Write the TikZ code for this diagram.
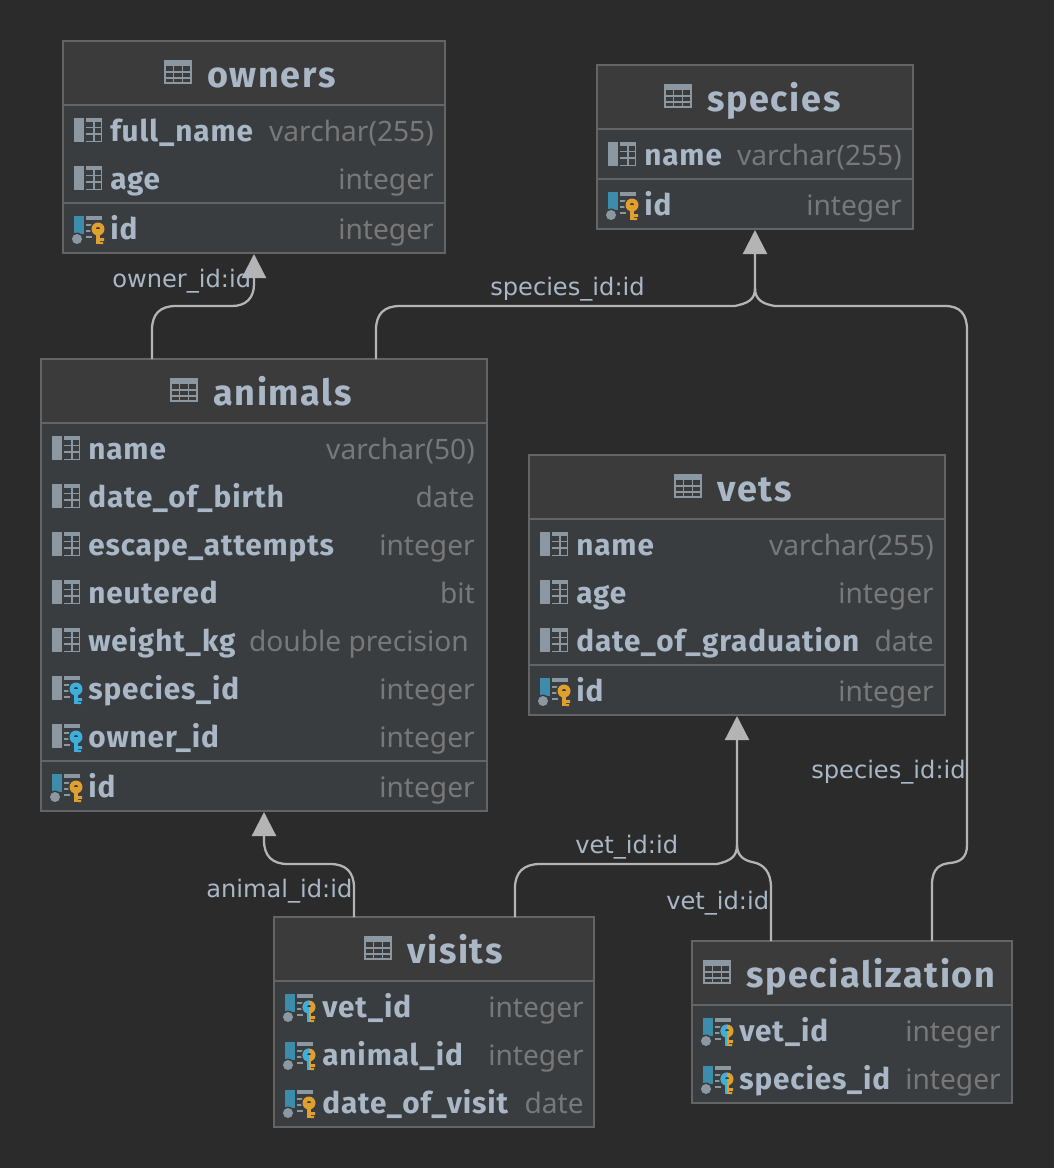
\documentclass[tikz,border=0pt]{standalone}
\usepackage{fontspec}
\setmainfont{Noto Sans}
\newfontfamily\boldfont{Fira Sans}[LetterSpace=3]
\newfontfamily\titlefont{Fira Sans}[LetterSpace=4.5]
\newfontfamily\labelfont{DejaVu Sans}
\usetikzlibrary{arrows.meta,calc}
\definecolor{bgc}{HTML}{2B2B2B}
\definecolor{bodyc}{HTML}{3A3D40}
\definecolor{headc}{HTML}{3C3B3B}
\definecolor{edgec}{HTML}{646464}
\definecolor{txtc}{HTML}{A9B7C6}
\definecolor{typec}{HTML}{787878}
\definecolor{linec}{HTML}{B4B4B4}
\definecolor{iconc}{HTML}{8C98A1}
\definecolor{pkblue}{HTML}{3D8CAB}
\definecolor{keyo}{HTML}{E0A030}
\definecolor{keyb}{HTML}{3CAFDC}
\tikzset{
 x=0.75pt,y=-0.75pt,
 tbl/.style={draw=edgec,line width=1.5pt,fill=bodyc,rectangle,anchor=north west,inner sep=0pt,outer sep=0pt},
 titletext/.style={anchor=base west,yshift=-9pt,text=txtc,font=\titlefont\fontsize{27}{28}\selectfont\bfseries,inner sep=0pt},
 coltext/.style={anchor=base west,yshift=-7.9pt,text=txtc,font=\boldfont\fontsize{22.3}{24}\selectfont\bfseries,inner sep=0pt},
 typetext/.style={anchor=base east,yshift=-7.9pt,text=typec,font=\fontsize{21.1}{24}\selectfont,inner sep=0pt},
 lbl/.style={anchor=base west,yshift=-6.4pt,text=txtc,font=\labelfont\fontsize{18.1}{20}\selectfont,inner sep=0pt},
 conn/.style={draw=linec,line width=1.7pt},
 arrowed/.style={conn,-{Triangle[width=18pt,length=18pt,fill=linec]}},
 sepl/.style={draw=edgec,line width=1.5pt},
}
\newcommand{\headbg}[4]{\fill[headc] (#1,#2) rectangle (#3,#4);}
\newcommand{\tabicon}[2]{\begin{scope}[shift={(#1,#2-3)}]
 \fill[iconc] (0,0) rectangle (28,6);
 \draw[iconc,line width=1.2pt] (0.8,0.8) rectangle (27.2,23.2);
 \draw[iconc,line width=.9pt] (0,12) -- (28,12) (0,18) -- (28,18) (9.5,0) -- (9.5,24) (18.5,0) -- (18.5,24);
\end{scope}}
\newcommand{\colicon}[2]{\begin{scope}[shift={(#1,#2-2)}]
 \fill[iconc] (0,0) rectangle (9.5,24);
 \fill[iconc] (12,0) rectangle (28,4);
 \draw[iconc,line width=.9pt] (12,9.5) -- (28,9.5) (12,16) -- (28,16) (12,23.2) -- (28,23.2) (20,0) -- (20,24) (27.3,0) -- (27.3,24);
\end{scope}}
\newcommand{\keyicon}[1]{%
 \fill[#1] (21.8,13) rectangle (26.2,28);
 \fill[#1] (26,22) rectangle (30,25) (26,26) rectangle (29,28);
 \fill[#1,even odd rule] (24,13) circle (6.5) (24,13) circle (2.2);
}
\newcommand{\keyclear}{\fill[bodyc] (24,13) circle (8);}
\newcommand{\fkicon}[2]{\begin{scope}[shift={(#1,#2-2)}]
 \fill[iconc] (0,0) rectangle (9.5,24);
 \fill[iconc] (12,0) rectangle (28,3.5);
 \draw[iconc,line width=.9pt] (12,9) -- (18,9) (12,15) -- (17,15) (12,21) -- (18,21);
 \keyclear
 \keyicon{keyb}
\end{scope}}
\newcommand{\pkbase}{%
 \fill[pkblue] (0,0) rectangle (9.5,18);
 \fill[bodyc] (3,23) circle (6.5);
 \fill[iconc] (3,23) circle (5);
 \fill[iconc] (12,0) rectangle (28,3.5);
 \draw[iconc,line width=.9pt] (12,9) -- (18,9) (12,15) -- (17,15) (12,21) -- (18,21);
 \keyclear
}
\newcommand{\pkicon}[2]{\begin{scope}[shift={(#1,#2-2)}]
 \pkbase
 \keyicon{keyo}
\end{scope}}
% primary key that is also a foreign key: key half blue, half orange
\newcommand{\pkfkicon}[2]{\begin{scope}[shift={(#1,#2-2)}]
 \pkbase
 \keyicon{keyo}
 \begin{scope}
  \clip (15,0) rectangle (24,30);
  \keyicon{keyb}
 \end{scope}
\end{scope}}
\begin{document}
\begin{tikzpicture}
\useasboundingbox (0,0) rectangle (1054,1168);
\fill[bgc] (0,0) rectangle (1054,1168);

% ---- tables
\node[tbl,minimum width=286.5pt,minimum height=159pt] (owners) at (63,41) {};
\headbg{63}{41}{445}{105}
\draw[sepl] (63,105) -- (445,105) (63,203) -- (445,203);
\draw[edgec,line width=1.5pt] (63,41) rectangle (445,253);
\tabicon{164}{63}
\node[titletext] (ownersT) at (207,75) {owners};
\colicon{74}{120}\node[coltext] (o1) at (110,131) {full\_name};
\node[typetext] (o1t) at (434,131) {varchar(255)};
\colicon{74}{168}\node[coltext] (o2) at (110,179) {age};
\node[typetext] (o2t) at (434,179) {integer};
\pkicon{74}{218}\node[coltext] (o3) at (110,229) {id};
\node[typetext] (o3t) at (434,229) {integer};

\node[tbl,minimum width=237pt,minimum height=123pt] (species) at (597,65) {};
\headbg{597}{65}{913}{129}
\draw[sepl] (597,129) -- (913,129) (597,179) -- (913,179);
\draw[edgec,line width=1.5pt] (597,65) rectangle (913,229);
\tabicon{664}{87}
\node[titletext] (speciesT) at (707,99) {species};
\colicon{608}{144}\node[coltext] (s1) at (644,155) {name};
\node[typetext] (s1t) at (902,155) {varchar(255)};
\pkicon{608}{194}\node[coltext] (s2) at (644,205) {id};
\node[typetext] (s2t) at (902,205) {integer};

\node[tbl,minimum width=334.5pt,minimum height=339pt] (animals) at (41,359) {};
\headbg{41}{359}{487}{423}
\draw[sepl] (41,423) -- (487,423) (41,761) -- (487,761);
\draw[edgec,line width=1.5pt] (41,359) rectangle (487,811);
\tabicon{170}{381}
\node[titletext] (animalsT) at (213,393) {animals};
\colicon{52}{438}\node[coltext] (a1) at (88,449) {name};
\node[typetext] (a1t) at (475,449) {varchar(50)};
\colicon{52}{486}\node[coltext] (a2) at (88,497) {date\_of\_birth};
\node[typetext] (a2t) at (475,497) {date};
\colicon{52}{534}\node[coltext] (a3) at (88,545) {escape\_attempts};
\node[typetext] (a3t) at (475,545) {integer};
\colicon{52}{582}\node[coltext] (a4) at (88,593) {neutered};
\node[typetext] (a4t) at (475,593) {bit};
\colicon{52}{630}\node[coltext] (a5) at (88,641) {weight\_kg};
\node[typetext] (a5t) at (469,641) {double precision};
\fkicon{52}{678}\node[coltext] (a6) at (88,689) {species\_id};
\node[typetext] (a6t) at (475,689) {integer};
\fkicon{52}{726}\node[coltext] (a7) at (88,737) {owner\_id};
\node[typetext] (a7t) at (475,737) {integer};
\pkicon{52}{776}\node[coltext] (a8) at (88,787) {id};
\node[typetext] (a8t) at (475,787) {integer};

\node[tbl,minimum width=312pt,minimum height=195pt] (vets) at (529,455) {};
\headbg{529}{455}{945}{519}
\draw[sepl] (529,519) -- (945,519) (529,665) -- (945,665);
\draw[edgec,line width=1.5pt] (529,455) rectangle (945,715);
\tabicon{674}{477}
\node[titletext] (vetsT) at (717,489) {vets};
\colicon{540}{534}\node[coltext] (v1) at (576,545) {name};
\node[typetext] (v1t) at (934,545) {varchar(255)};
\colicon{540}{582}\node[coltext] (v2) at (576,593) {age};
\node[typetext] (v2t) at (934,593) {integer};
\colicon{540}{630}\node[coltext] (v3) at (576,641) {date\_of\_graduation};
\node[typetext] (v3t) at (934,641) {date};
\pkicon{540}{680}\node[coltext] (v4) at (576,691) {id};
\node[typetext] (v4t) at (934,691) {integer};

\node[tbl,minimum width=240pt,minimum height=157.5pt] (visits) at (274,917) {};
\headbg{274}{917}{594}{981}
\draw[sepl] (274,981) -- (594,981);
\draw[edgec,line width=1.5pt] (274,917) rectangle (594,1127);
\tabicon{364}{939}
\node[titletext] (visitsT) at (407,951) {visits};
\pkfkicon{285}{996}\node[coltext] (w1) at (322,1007) {vet\_id};
\node[typetext] (w1t) at (584,1007) {integer};
\pkfkicon{285}{1044}\node[coltext] (w2) at (322,1055) {animal\_id};
\node[typetext] (w2t) at (584,1055) {integer};
\pkicon{285}{1092}\node[coltext] (w3) at (322,1103) {date\_of\_visit};
\node[typetext] (w3t) at (584,1103) {date};

\node[tbl,minimum width=240pt,minimum height=121.5pt] (specialization) at (692,941) {};
\headbg{692}{941}{1012}{1005}
\draw[sepl] (692,1005) -- (1012,1005);
\draw[edgec,line width=1.5pt] (692,941) rectangle (1012,1103);
\tabicon{703}{963}
\node[titletext] (specT) at (746,975) {specialization};
\pkfkicon{703}{1020}\node[coltext] (x1) at (739,1031) {vet\_id};
\node[typetext] (x1t) at (1001,1031) {integer};
\pkfkicon{703}{1068}\node[coltext] (x2) at (739,1079) {species\_id};
\node[typetext] (x2t) at (1001,1079) {integer};

% ---- connectors
\draw[arrowed] ($(animals.north west)+(111,0)$) -- (152,330) .. controls (152,314) and (160,306) .. (176,306) -- (232,306) .. controls (246,306) and (254,298) .. (254,284) -- ($(owners.south west)+(191,1)$);
\draw[arrowed] ($(animals.north west)+(335,0)$) -- (376,330) .. controls (376,314) and (384,306) .. (400,306) -- (735,306) .. controls (748,303) and (755,300) .. (755,288) -- ($(species.south west)+(158,1)$);
\draw[conn] ($(specialization.north west)+(240,0)$) -- (932,885) .. controls (932,868) and (940,864) .. (950,863) .. controls (960,862) and (967,858) .. (967,845) -- (967,330) .. controls (967,314) and (960,306) .. (945,306) -- (775,306) .. controls (763,304) and (755,300) .. (755,288);
\draw[arrowed] ($(visits.north west)+(241,0)$) -- (515,888) .. controls (515,872) and (524,864) .. (540,864) -- (717,864) .. controls (730,861) and (737,857) .. (737,845) -- ($(vets.south west)+(208,1)$);
\draw[conn] ($(specialization.north west)+(79,0)$) -- (771,888) .. controls (771,872) and (764,864) .. (752,862) .. controls (743,860) and (737,855) .. (737,845);
\draw[arrowed] ($(visits.north west)+(80,0)$) -- (354,888) .. controls (354,872) and (346,864) .. (330,864) -- (288,864) .. controls (272,864) and (264,856) .. (264,840) -- ($(animals.south west)+(223,1)$);

% ---- labels
\node[lbl] (l1) at (112,279) {owner\_id:id};
\node[lbl] (l2) at (490,287) {species\_id:id};
\node[lbl] (l3) at (811,770) {species\_id:id};
\node[lbl] (l4) at (575,845) {vet\_id:id};
\node[lbl] (l5) at (666,901) {vet\_id:id};
\node[lbl] (l6) at (206,889) {animal\_id:id};
\end{tikzpicture}
\end{document}
